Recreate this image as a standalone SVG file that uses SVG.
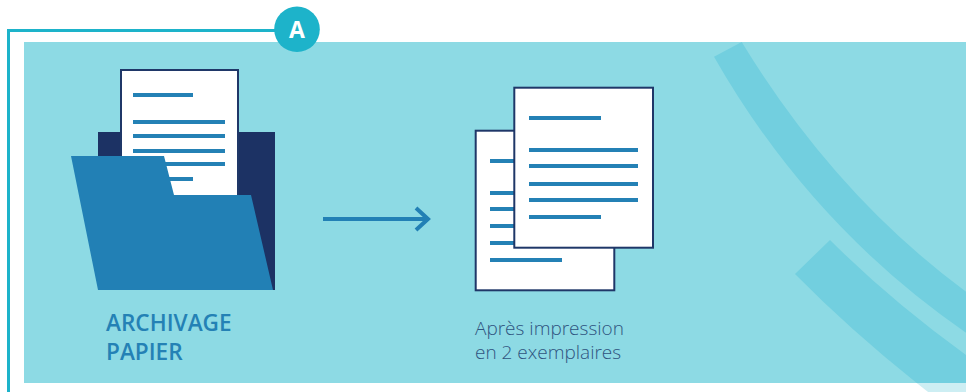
<svg xmlns="http://www.w3.org/2000/svg" width="966" height="392" viewBox="0 0 966 392">
<style>
.page{fill:#fff;stroke:#1f3768;stroke-width:2}
.ln{fill:#2481b5}
.band{fill:#72cfdf}
.t1{font-family:"Open Sans","Liberation Sans",sans-serif;font-weight:600;font-size:22.6px;fill:#2481b5}
.t2{font-family:"Open Sans","Liberation Sans",sans-serif;font-weight:300;font-size:19px;fill:#2f5480}
</style>
<defs>
<path id="b2" d="M830 240Q890 300 966 355V420H965Q870 350 795 274Z"/>
<clipPath id="inpanel"><rect x="24" y="42" width="942" height="341"/></clipPath>
<clipPath id="below"><rect x="24" y="383" width="942" height="9"/></clipPath>
</defs>
<rect width="966" height="392" fill="#fff"/>
<g id="panel">
<rect x="24" y="42" width="942" height="341" fill="#8ddae4"/>
<path class="band" d="M741.7 42Q835 195 966 291.7V332.7Q810 225 714 56.7Z"/>
<use href="#b2" class="band" clip-path="url(#inpanel)"/>
<use href="#b2" fill="#cdeef3" clip-path="url(#below)"/>
</g>
<g id="frame">
<path d="M8.5 392V30.5H280" fill="none" stroke="#1db3ca" stroke-width="3"/>
</g>
<g id="badge-a">
<circle cx="297" cy="29.3" r="22.8" fill="#1db3ca"/>
<text x="297" y="38" text-anchor="middle" font-family="Open Sans,Liberation Sans,sans-serif" font-weight="700" font-size="23" fill="#fff">A</text>
</g>
<g id="folder">
<rect x="98" y="132" width="177" height="158" fill="#1c3264"/>
<rect class="page" x="121" y="70" width="117" height="130"/>
<rect class="ln" x="133" y="93" width="60" height="4"/>
<rect class="ln" x="133" y="120" width="92" height="4"/>
<rect class="ln" x="133" y="134" width="92" height="4"/>
<rect class="ln" x="133" y="149" width="92" height="4"/>
<rect class="ln" x="133" y="162" width="92" height="4"/>
<rect class="ln" x="133" y="177" width="60" height="4"/>
<path d="M71 156H164L174 195H251L273 290H98Z" fill="#2280b5"/>
<text class="t1" x="106" y="331">ARCHIVAGE</text>
<text class="t1" x="106" y="360">PAPIER</text>
</g>
<g id="connectors">
<path d="M323 219H428M416 208L428 219L416 230" fill="none" stroke="#2280b5" stroke-width="4"/>
</g>
<g id="documents">
<rect class="page" x="475.7" y="130.7" width="138.6" height="159.6"/>
<rect class="ln" x="490" y="159" width="72" height="4"/>
<rect class="ln" x="490" y="191" width="109" height="4"/>
<rect class="ln" x="490" y="207" width="109" height="4"/>
<rect class="ln" x="490" y="224" width="109" height="4"/>
<rect class="ln" x="490" y="241" width="109" height="4"/>
<rect class="ln" x="490" y="258" width="72" height="4"/>
<rect class="page" x="514.3" y="87.7" width="138.7" height="160"/>
<rect class="ln" x="529" y="116" width="72" height="4"/>
<rect class="ln" x="529" y="148" width="109" height="4"/>
<rect class="ln" x="529" y="164" width="109" height="4"/>
<rect class="ln" x="529" y="182" width="109" height="4"/>
<rect class="ln" x="529" y="198" width="109" height="4"/>
<rect class="ln" x="529" y="215" width="72" height="4"/>
<text class="t2" x="475" y="335">Après impression</text>
<text class="t2" x="475" y="358.500">en 2 exemplaires</text>
</g>
</svg>
